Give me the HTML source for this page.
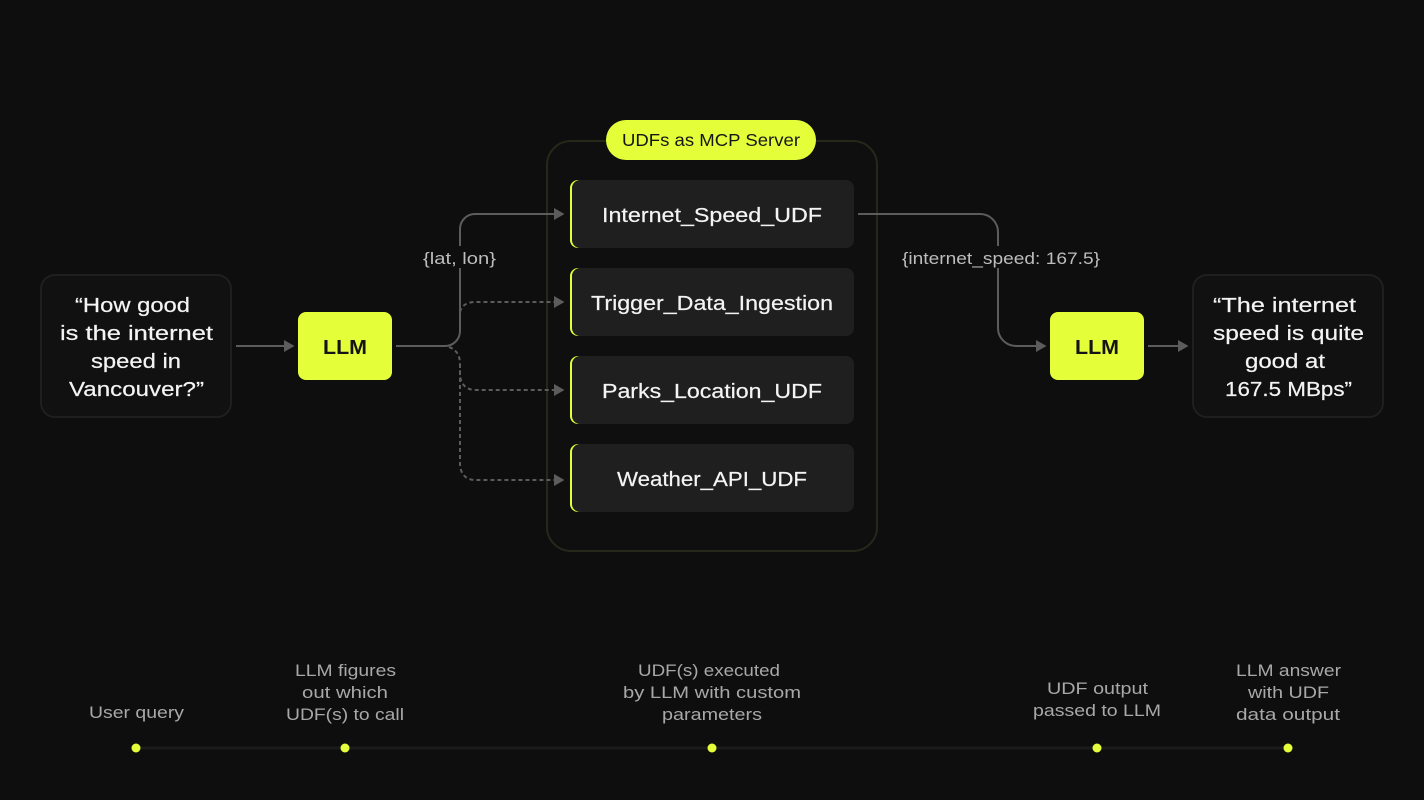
<!DOCTYPE html>
<html lang="en">
<head>
<meta charset="utf-8">
<title>UDFs as MCP Server</title>
<style>
html,body{margin:0;padding:0;background:#0e0e0e;width:1424px;height:800px;overflow:hidden}
svg{display:block}
text{font-family:"Liberation Sans",sans-serif}
.m{font-size:20px;fill:#f4f4f4;stroke:#f4f4f4;stroke-width:.2px}
.u{font-size:20px;fill:#f4f4f4;stroke:#f4f4f4;stroke-width:.2px}
.c{font-size:17px;fill:#a8a8a8}
.l{font-size:17px;fill:#bdbdbd}
.b{font-size:20px;font-weight:700;fill:#141414}
.s{fill:none;stroke:#5c5c5c;stroke-width:2}
.d{fill:none;stroke:#5c5c5c;stroke-width:2;stroke-dasharray:4 3}
.a{fill:#5c5c5c}
.y{fill:#e4ff3a}
.n{fill:#1f1f1f}
.q{fill:#111;stroke:#1f1f1f;stroke-width:2}
</style>
</head>
<body>
<svg width="1424" height="800" viewBox="0 0 1424 800" xmlns="http://www.w3.org/2000/svg">
<rect width="1424" height="800" fill="#0e0e0e"/>

<!-- container -->
<rect x="547" y="141" width="330" height="410" rx="24" fill="#0f0f0f" stroke="#26281a" stroke-width="2"/>

<!-- pill -->
<rect class="y" x="606" y="120" width="210" height="40" rx="20"/>
<text x="622" y="146" font-size="17.5" fill="#161616" textLength="178" lengthAdjust="spacingAndGlyphs">UDFs as MCP Server</text>

<!-- UDF boxes -->
<rect class="y" x="570" y="180" width="40" height="68" rx="8"/>
<rect class="n" x="572" y="180" width="282" height="68" rx="8"/>
<rect class="y" x="570" y="268" width="40" height="68" rx="8"/>
<rect class="n" x="572" y="268" width="282" height="68" rx="8"/>
<rect class="y" x="570" y="356" width="40" height="68" rx="8"/>
<rect class="n" x="572" y="356" width="282" height="68" rx="8"/>
<rect class="y" x="570" y="444" width="40" height="68" rx="8"/>
<rect class="n" x="572" y="444" width="282" height="68" rx="8"/>
<text class="u" x="602" y="222" textLength="220" lengthAdjust="spacingAndGlyphs">Internet_Speed_UDF</text>
<text class="u" x="591" y="310" textLength="242" lengthAdjust="spacingAndGlyphs">Trigger_Data_Ingestion</text>
<text class="u" x="602" y="398" textLength="220" lengthAdjust="spacingAndGlyphs">Parks_Location_UDF</text>
<text class="u" x="617" y="486" textLength="190" lengthAdjust="spacingAndGlyphs">Weather_API_UDF</text>

<!-- query / answer boxes -->
<rect class="q" x="41" y="275" width="190" height="142" rx="14"/>
<text class="m" x="75" y="312" textLength="115" lengthAdjust="spacingAndGlyphs">“How good</text>
<text class="m" x="60" y="340" textLength="153" lengthAdjust="spacingAndGlyphs">is the internet</text>
<text class="m" x="91" y="368" textLength="90" lengthAdjust="spacingAndGlyphs">speed in</text>
<text class="m" x="69" y="396" textLength="135" lengthAdjust="spacingAndGlyphs">Vancouver?”</text>

<rect class="q" x="1193" y="275" width="190" height="142" rx="14"/>
<text class="m" x="1213" y="312" textLength="143" lengthAdjust="spacingAndGlyphs">“The internet</text>
<text class="m" x="1213" y="340" textLength="151" lengthAdjust="spacingAndGlyphs">speed is quite</text>
<text class="m" x="1245" y="368" textLength="80" lengthAdjust="spacingAndGlyphs">good at</text>
<text class="m" x="1225" y="396" textLength="127" lengthAdjust="spacingAndGlyphs">167.5 MBps”</text>

<!-- LLM -->
<rect class="y" x="298" y="312" width="94" height="68" rx="8"/>
<text class="b" x="323" y="354" textLength="44" lengthAdjust="spacingAndGlyphs">LLM</text>
<rect class="y" x="1050" y="312" width="94" height="68" rx="8"/>
<text class="b" x="1075" y="354" textLength="44" lengthAdjust="spacingAndGlyphs">LLM</text>

<!-- connectors -->
<path class="d" d="M460 312Q462 303 474 302H554"/>
<path class="d" d="M449 347Q460 351 460 364V376Q462 389 474 390H554"/>
<path class="d" d="M460 364V466Q462 479 474 480H554"/>
<path class="s" d="M396 346H445A15 15 0 0 0 460 331V229A15 15 0 0 1 475 214H554"/>
<path class="a" d="M554 208L564.500 214L554 220z"/>
<path class="a" d="M554 296L564.500 302L554 308z"/>
<path class="a" d="M554 384L564.500 390L554 396z"/>
<path class="a" d="M554 474L564.500 480L554 486z"/>

<path class="s" d="M236 346H284"/>
<path class="a" d="M284 340L294.500 346L284 352z"/>
<path class="s" d="M858 214H980A18 18 0 0 1 998 232V328A18 18 0 0 0 1016 346H1037"/>
<path class="a" d="M1036 340L1046.500 346L1036 352z"/>
<path class="s" d="M1148 346H1178"/>
<path class="a" d="M1178 340L1188.500 346L1178 352z"/>

<!-- connector labels -->
<rect x="420" y="246" width="80" height="22" fill="#0e0e0e"/>
<text class="l" x="423" y="264" textLength="73" lengthAdjust="spacingAndGlyphs">{lat, lon}</text>
<rect x="899" y="246" width="204" height="22" fill="#0e0e0e"/>
<text class="l" x="902" y="264" textLength="198" lengthAdjust="spacingAndGlyphs">{internet_speed: 167.5}</text>

<!-- timeline -->
<rect x="136" y="746.500" width="1152" height="3" fill="#1a1a1a"/>
<g class="y">
<circle cx="136" cy="748" r="4.500"/>
<circle cx="345" cy="748" r="4.500"/>
<circle cx="712" cy="748" r="4.500"/>
<circle cx="1097" cy="748" r="4.500"/>
<circle cx="1288" cy="748" r="4.500"/>
</g>
<text class="c" x="89" y="718" textLength="95" lengthAdjust="spacingAndGlyphs">User query</text>
<text class="c" x="295" y="676" textLength="101" lengthAdjust="spacingAndGlyphs">LLM figures</text>
<text class="c" x="302" y="698" textLength="86" lengthAdjust="spacingAndGlyphs">out which</text>
<text class="c" x="286" y="720" textLength="118" lengthAdjust="spacingAndGlyphs">UDF(s) to call</text>
<text class="c" x="638" y="676" textLength="142" lengthAdjust="spacingAndGlyphs">UDF(s) executed</text>
<text class="c" x="623" y="698" textLength="178" lengthAdjust="spacingAndGlyphs">by LLM with custom</text>
<text class="c" x="662" y="720" textLength="100" lengthAdjust="spacingAndGlyphs">parameters</text>
<text class="c" x="1047" y="694" textLength="101" lengthAdjust="spacingAndGlyphs">UDF output</text>
<text class="c" x="1033" y="716" textLength="128" lengthAdjust="spacingAndGlyphs">passed to LLM</text>
<text class="c" x="1236" y="676" textLength="105" lengthAdjust="spacingAndGlyphs">LLM answer</text>
<text class="c" x="1248" y="698" textLength="81" lengthAdjust="spacingAndGlyphs">with UDF</text>
<text class="c" x="1236" y="720" textLength="104" lengthAdjust="spacingAndGlyphs">data output</text>
</svg>
</body>
</html>
